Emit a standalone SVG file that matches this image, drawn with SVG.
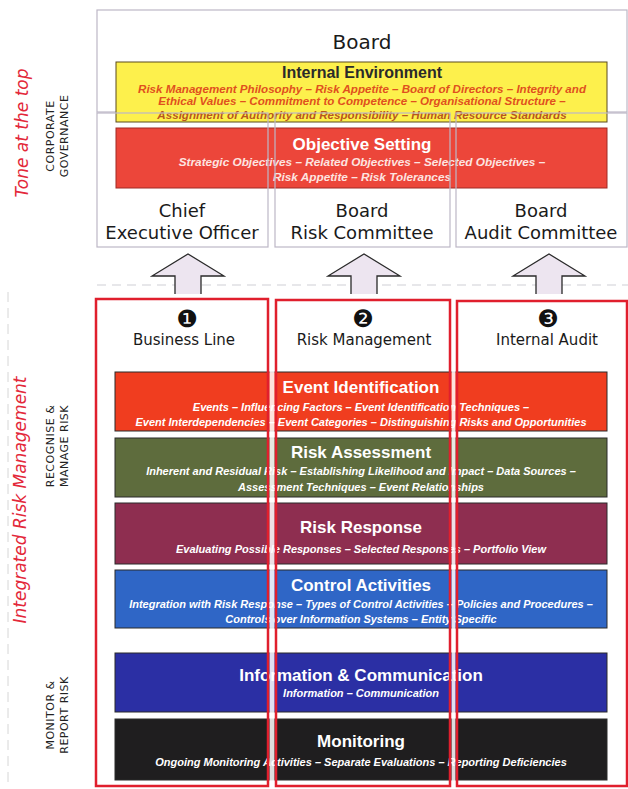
<svg xmlns="http://www.w3.org/2000/svg" width="628" height="789" viewBox="0 0 628 789">
<defs>
<style>
.bg{fill:#ffffff}
.gbox{fill:none;stroke:#bdb7c6;stroke-width:1.2}
.rbox{fill:none;stroke:#e01f2d;stroke-width:2.5}
.gap{fill:#ffffff;opacity:0.85}
.band{stroke:#2a2a2a;stroke-width:1}
.hd{font-family:"Liberation Sans",Arial,sans-serif;font-weight:bold;font-size:17px;text-anchor:middle;fill:#ffffff}
.sub{font-family:"Liberation Sans",Arial,sans-serif;font-style:italic;font-weight:bold;font-size:11px;text-anchor:middle;fill:#ffffff}
.col{font-family:"DejaVu Sans",sans-serif;font-size:18px;text-anchor:middle;fill:#1a1a1a}
.lab{font-family:"DejaVu Sans",sans-serif;font-size:15px;text-anchor:middle;fill:#1a1a1a}
.num{font-family:"DejaVu Sans",sans-serif;font-size:24px;text-anchor:middle;fill:#111111}
.side{font-family:"DejaVu Sans",sans-serif;font-style:italic;font-size:17px;text-anchor:middle;fill:#e3283a}
.cap{font-family:"DejaVu Sans",sans-serif;font-size:11px;text-anchor:middle;fill:#222222;letter-spacing:0.5px}
.arrow{fill:#ede5f0;stroke:none}
.aline{fill:none;stroke:#2a2a2a;stroke-width:1.3;stroke-linejoin:miter}
</style>
</defs>
<rect class="bg" x="0" y="0" width="628" height="789"/>

<!-- side labels -->
<g id="side-labels">
<text class="side" transform="translate(28,133) rotate(-90)">Tone at the top</text>
<text class="cap" transform="translate(54,136) rotate(-90)">CORPORATE</text>
<text class="cap" transform="translate(68,136) rotate(-90)">GOVERNANCE</text>
<text class="side" transform="translate(26,500) rotate(-90)">Integrated Risk Management</text>
<text class="cap" transform="translate(54,446) rotate(-90)">RECOGNISE &amp;</text>
<text class="cap" transform="translate(68,446) rotate(-90)">MANAGE RISK</text>
<text class="cap" transform="translate(54,715) rotate(-90)">MONITOR &amp;</text>
<text class="cap" transform="translate(68,715) rotate(-90)">REPORT RISK</text>
<line x1="8" y1="292" x2="8" y2="785" stroke="#d6d6d6" stroke-width="1" stroke-dasharray="10 6"/>
</g>

<!-- Board -->
<g id="board">
<rect class="gbox" x="97" y="10" width="530" height="102"/>
<text class="col" x="362" y="49" style="font-size:20px">Board</text>
</g>

<!-- Internal Environment -->
<g id="internal-environment">
<rect x="116" y="62" width="491" height="60" fill="#fdf04c" stroke="#5a4a1e" stroke-width="1"/>
<text class="hd" x="362" y="78" style="fill:#2a2a2a;font-size:16px">Internal Environment</text>
<text class="sub" x="362" y="93" style="fill:#e0501e;font-size:11.6px">Risk Management Philosophy – Risk Appetite – Board of Directors – Integrity and</text>
<text class="sub" x="362" y="105" style="fill:#e0501e;font-size:11.6px">Ethical Values – Commitment to Competence – Organisational Structure –</text>
<text class="sub" x="362" y="118.5" style="fill:#b8561e;font-size:11.6px">Assignment of Authority and Responsibility – Human Resource Standards</text>
</g>

<!-- Objective Setting -->
<g id="objective-setting">
<rect x="116" y="128" width="491" height="60" fill="#ec463a" stroke="#a02a24" stroke-width="1"/>
<text class="hd" x="362" y="150">Objective Setting</text>
<text class="sub" x="362" y="166" style="fill:#fde4e0;font-size:11.8px">Strategic Objectives – Related Objectives – Selected Objectives –</text>
<text class="sub" x="362" y="181" style="fill:#fde4e0;font-size:11.8px">Risk Appetite – Risk Tolerances</text>
</g>

<!-- column boxes top -->
<g id="ceo">
<rect class="gbox" x="97" y="113" width="171" height="134"/>
<text class="col" x="182" y="217">Chief</text>
<text class="col" x="182" y="239">Executive Officer</text>
</g>
<g id="brc">
<rect class="gbox" x="275" y="113" width="175" height="134"/>
<text class="col" x="362" y="217">Board</text>
<text class="col" x="362" y="239">Risk Committee</text>
</g>
<g id="bac">
<rect class="gbox" x="456" y="113" width="171" height="134"/>
<text class="col" x="541" y="217">Board</text>
<text class="col" x="541" y="239">Audit Committee</text>
</g>

<!-- connectors: block arrows and dashed separator -->
<g id="connectors">
<line x1="97" y1="285" x2="628" y2="285" stroke="#cfcfd6" stroke-width="1.2" stroke-dasharray="9 6"/>
<polygon class="arrow" points="188,254 224,276 201,276 201,294 175,294 175,276 152,276"/>
<polyline class="aline" points="175,294 175,276 152,276 188,254 224,276 201,276 201,294"/>
<polygon class="arrow" points="364,254 400,276 377,276 377,294 351,294 351,276 328,276"/>
<polyline class="aline" points="351,294 351,276 328,276 364,254 400,276 377,276 377,294"/>
<polygon class="arrow" points="549,254 585,276 562,276 562,294 536,294 536,276 513,276"/>
<polyline class="aline" points="536,294 536,276 513,276 549,254 585,276 562,276 562,294"/>
</g>

<!-- bands -->
<g id="event-identification">
<rect class="band" x="115" y="372" width="492" height="59" fill="#f03d1f"/>
<text class="hd" x="361" y="393">Event Identification</text>
<text class="sub" x="361" y="410.5">Events – Influencing Factors – Event Identification Techniques –</text>
<text class="sub" x="361" y="425.5">Event Interdependencies – Event Categories – Distinguishing Risks and Opportunities</text>
</g>
<g id="risk-assessment">
<rect class="band" x="115" y="438" width="492" height="59" fill="#5e6c3d"/>
<text class="hd" x="361" y="458">Risk Assessment</text>
<text class="sub" x="361" y="474.5">Inherent and Residual Risk – Establishing Likelihood and Impact – Data Sources –</text>
<text class="sub" x="361" y="490.5">Assessment Techniques – Event Relationships</text>
</g>
<g id="risk-response">
<rect class="band" x="115" y="503" width="492" height="61" fill="#8e2e50"/>
<text class="hd" x="361" y="533">Risk Response</text>
<text class="sub" x="361" y="552.5">Evaluating Possible Responses – Selected Responses – Portfolio View</text>
</g>
<g id="control-activities">
<rect class="band" x="115" y="570" width="492" height="58" fill="#2f66c6"/>
<text class="hd" x="361" y="591">Control Activities</text>
<text class="sub" x="361" y="607.5">Integration with Risk Response – Types of Control Activities – Policies and Procedures –</text>
<text class="sub" x="361" y="622.5">Controls over Information Systems – Entity Specific</text>
</g>
<g id="information-communication">
<rect class="band" x="115" y="653" width="492" height="59" fill="#2b2fa4"/>
<text class="hd" x="361" y="681">Information &amp; Communication</text>
<text class="sub" x="361" y="696.5">Information – Communication</text>
</g>
<g id="monitoring">
<rect class="band" x="115" y="719" width="492" height="61" fill="#1f1e1f"/>
<text class="hd" x="361" y="747">Monitoring</text>
<text class="sub" x="361" y="765.5">Ongoing Monitoring Activities – Separate Evaluations – Reporting Deficiencies</text>
</g>

<!-- lines of defence columns -->
<rect class="gap" x="269.5" y="300" width="5" height="489"/>
<rect class="gap" x="451.5" y="300" width="4" height="489"/>
<g id="business-line">
<rect class="rbox" x="96" y="299" width="172" height="487"/>
<text class="num" x="187" y="327">❶</text>
<text class="lab" x="184" y="345">Business Line</text>
</g>
<g id="risk-management">
<rect class="rbox" x="276" y="300" width="174" height="486"/>
<text class="num" x="363" y="327">❷</text>
<text class="lab" x="364" y="345">Risk Management</text>
</g>
<g id="internal-audit">
<rect class="rbox" x="457" y="301" width="170" height="485"/>
<text class="num" x="548" y="327">❸</text>
<text class="lab" x="547" y="345">Internal Audit</text>
</g>
</svg>
